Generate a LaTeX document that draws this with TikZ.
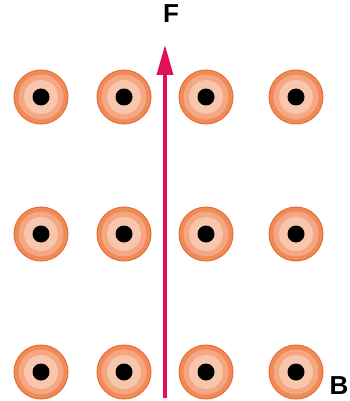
\documentclass[tikz,border=0pt]{standalone}
\usepackage{fontspec}
\setmainfont{Liberation Sans}
\usetikzlibrary{arrows.meta}

\definecolor{anneau}{RGB}{240,138,86}
\definecolor{bord}{RGB}{228,112,58}
\definecolor{milieu}{RGB}{245,166,130}
\definecolor{centre}{RGB}{248,198,172}
\definecolor{force}{RGB}{226,16,88}

\tikzset{
  lettre/.style={font=\bfseries\fontsize{26}{26}\selectfont, inner sep=0pt},
  fleche/.style={-{Triangle[length=30pt,width=16pt]}, line width=3.5pt, force}
}

\begin{document}
\begin{tikzpicture}[x=1pt,y=-1pt]

    \useasboundingbox (0,0) rectangle (350,401);

    % Champ B (sortant)
    \foreach \x in {41,124,206,296}{
      \foreach \y in {97,234,372}{
        \filldraw[fill=anneau, draw=bord, line width=1pt] (\x,\y) circle (27);
        \fill[milieu] (\x,\y) circle (22.5);
        \fill[centre] (\x,\y) circle (17);
        \fill[black] (\x,\y) circle (8.5);
      }
    }

    % Force
    \coordinate (bas) at (165,398);
    \coordinate (haut) at (165,45);
    \draw[fleche] (bas) -- (haut);

    % Labels
    \node[lettre] (F) at (171,14) {F};
    \node[lettre] (B) at (339,386) {B};

\end{tikzpicture}
\end{document}
